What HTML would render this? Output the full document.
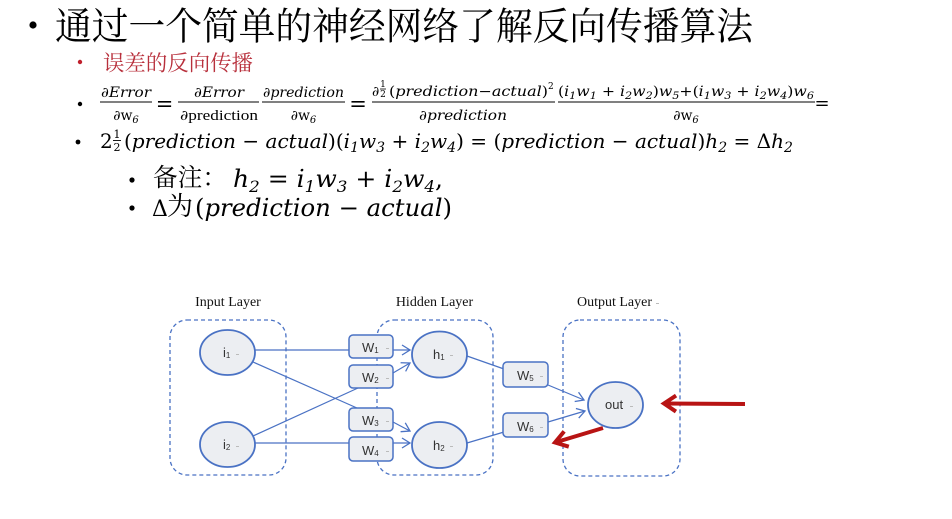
<!DOCTYPE html>
<html><head><meta charset="utf-8"><style>html,body{margin:0;padding:0;background:#fff}svg{display:block}</style></head>
<body>
<svg width="952" height="519" viewBox="0 0 952 519" xmlns="http://www.w3.org/2000/svg">
<defs>
<marker id="ab" markerUnits="userSpaceOnUse" markerWidth="20" markerHeight="20" refX="10" refY="10" orient="auto" overflow="visible">
<path d="M2,5 L10,10 L2,15" fill="none" stroke="#4a72c4" stroke-width="1.3"/>
</marker>
<marker id="ar" markerUnits="userSpaceOnUse" markerWidth="30" markerHeight="30" refX="15" refY="15" orient="auto" overflow="visible">
<path d="M3,7 L15,15 L3,23" fill="none" stroke="#b81414" stroke-width="4"/>
</marker>
</defs>
<rect width="952" height="519" fill="#fff"/>

<!-- Title -->
<circle cx="33" cy="25" r="3.6" fill="#000"/>
<text x="55" y="39.5" font-family="'Liberation Serif','Noto Serif CJK SC',serif" font-size="38" textLength="698" lengthAdjust="spacingAndGlyphs" fill="#000">通过一个简单的神经网络了解反向传播算法</text>

<!-- Subtitle -->
<circle cx="80" cy="62" r="2.2" fill="#c0202c"/>
<text x="103" y="70.5" font-family="'Liberation Serif','Noto Serif CJK SC',serif" font-size="21.5" textLength="150" lengthAdjust="spacingAndGlyphs" fill="#b8303c">误差的反向传播</text>

<!-- Line 1 -->
<circle cx="80" cy="104" r="2.2" fill="#000"/>
<g font-family="'DejaVu Serif',serif" font-size="14" font-style="italic" fill="#000">
 <!-- F1 -->
 <text x="101" y="97" textLength="50" lengthAdjust="spacingAndGlyphs">∂Error</text>
 <line x1="100" y1="102" x2="152" y2="102" stroke="#000" stroke-width="1"/>
 <text x="126" y="120" text-anchor="middle">∂<tspan font-style="normal">w</tspan><tspan font-size="10" dy="3">6</tspan></text>
 <text x="164.5" y="111" text-anchor="middle" font-style="normal" font-size="21">=</text>
 <!-- F2 -->
 <text x="194" y="97" textLength="50" lengthAdjust="spacingAndGlyphs">∂Error</text>
 <line x1="178" y1="102" x2="259" y2="102" stroke="#000" stroke-width="1"/>
 <text x="180" y="120" textLength="78" lengthAdjust="spacingAndGlyphs">∂<tspan font-style="normal" font-family="'Liberation Serif',serif" font-size="15">prediction</tspan></text>
 <!-- F3 -->
 <text x="263" y="97" textLength="81" lengthAdjust="spacingAndGlyphs">∂prediction</text>
 <line x1="262" y1="102" x2="345" y2="102" stroke="#000" stroke-width="1"/>
 <text x="303.5" y="120" text-anchor="middle">∂<tspan font-style="normal">w</tspan><tspan font-size="10" dy="3">6</tspan></text>
 <text x="358" y="111" text-anchor="middle" font-style="normal" font-size="21">=</text>
 <!-- F4 -->
 <text x="372" y="96">∂</text>
 <text x="383" y="87" font-size="9" font-style="normal" text-anchor="middle">1</text>
 <line x1="380" y1="89" x2="386" y2="89" stroke="#000" stroke-width="0.8"/>
 <text x="383" y="97" font-size="9" font-style="normal" text-anchor="middle">2</text>
 <text x="389" y="96" textLength="159" lengthAdjust="spacingAndGlyphs"><tspan font-style="normal">(</tspan>prediction<tspan font-style="normal">−</tspan>actual<tspan font-style="normal">)</tspan></text>
 <text x="548" y="89" font-size="9" font-style="normal">2</text>
 <line x1="372" y1="102" x2="555" y2="102" stroke="#000" stroke-width="1"/>
 <text x="419" y="120" textLength="88" lengthAdjust="spacingAndGlyphs">∂prediction</text>
 <!-- F5 -->
 <text x="558" y="96" textLength="256" lengthAdjust="spacingAndGlyphs"><tspan font-style="normal">(</tspan>i<tspan font-size="10" dy="3">1</tspan><tspan dy="-3">w</tspan><tspan font-size="10" dy="3">1</tspan><tspan dy="-3" font-style="normal"> + </tspan>i<tspan font-size="10" dy="3">2</tspan><tspan dy="-3">w</tspan><tspan font-size="10" dy="3">2</tspan><tspan dy="-3" font-style="normal">)</tspan>w<tspan font-size="10" dy="3">5</tspan><tspan dy="-3" font-style="normal">+(</tspan>i<tspan font-size="10" dy="3">1</tspan><tspan dy="-3">w</tspan><tspan font-size="10" dy="3">3</tspan><tspan dy="-3" font-style="normal"> + </tspan>i<tspan font-size="10" dy="3">2</tspan><tspan dy="-3">w</tspan><tspan font-size="10" dy="3">4</tspan><tspan dy="-3" font-style="normal">)</tspan>w<tspan font-size="10" dy="3">6</tspan></text>
 <line x1="558" y1="102" x2="815" y2="102" stroke="#000" stroke-width="1"/>
 <text x="686" y="120" text-anchor="middle">∂<tspan font-style="normal">w</tspan><tspan font-size="10" dy="3">6</tspan></text>
 <text x="822" y="109" text-anchor="middle" font-style="normal" font-size="18">=</text>
</g>

<!-- Line 2 -->
<circle cx="78" cy="142" r="2.4" fill="#000"/>
<g font-family="'DejaVu Serif',serif" font-size="20" font-style="italic" fill="#000">
 <text x="100" y="148" font-style="normal">2</text>
 <text x="117" y="138" font-size="11" font-style="normal" text-anchor="middle">1</text>
 <line x1="113" y1="140.5" x2="121" y2="140.5" stroke="#000" stroke-width="0.9"/>
 <text x="117" y="151" font-size="11" font-style="normal" text-anchor="middle">2</text>
 <text x="124" y="148" textLength="669" lengthAdjust="spacingAndGlyphs"><tspan font-style="normal">(</tspan>prediction<tspan font-style="normal"> − </tspan>actual<tspan font-style="normal">)(</tspan>i<tspan font-size="14" dy="4">1</tspan><tspan dy="-4">w</tspan><tspan font-size="14" dy="4">3</tspan><tspan dy="-4" font-style="normal"> + </tspan>i<tspan font-size="14" dy="4">2</tspan><tspan dy="-4">w</tspan><tspan font-size="14" dy="4">4</tspan><tspan dy="-4" font-style="normal">) = (</tspan>prediction<tspan font-style="normal"> − </tspan>actual<tspan font-style="normal">)</tspan>h<tspan font-size="14" dy="4">2</tspan><tspan dy="-4" font-style="normal"> = Δ</tspan>h<tspan font-size="14" dy="4">2</tspan></text>
</g>

<!-- Line 3 -->
<circle cx="132" cy="180" r="2.6" fill="#000"/>
<text x="153" y="186" font-family="'Liberation Serif','Noto Serif CJK SC',serif" font-size="25" textLength="74" lengthAdjust="spacingAndGlyphs" fill="#000">备注：</text>
<text x="233" y="187" font-family="'DejaVu Serif',serif" font-size="24" font-style="italic" textLength="210" lengthAdjust="spacingAndGlyphs" fill="#000">h<tspan font-size="16" dy="5">2</tspan><tspan dy="-5" font-style="normal"> = </tspan>i<tspan font-size="16" dy="5">1</tspan><tspan dy="-5">w</tspan><tspan font-size="16" dy="5">3</tspan><tspan dy="-5" font-style="normal"> + </tspan>i<tspan font-size="16" dy="5">2</tspan><tspan dy="-5">w</tspan><tspan font-size="16" dy="5">4</tspan><tspan dy="-5" font-style="normal">,</tspan></text>

<!-- Line 4 -->
<circle cx="132" cy="208" r="2.6" fill="#000"/>
<text x="152" y="216" font-family="'DejaVu Serif',serif" font-size="22" fill="#000">Δ</text>
<text x="167" y="215" font-family="'Liberation Serif','Noto Serif CJK SC',serif" font-size="26" fill="#000">为</text>
<text x="195" y="216" font-family="'DejaVu Serif',serif" font-size="24" font-style="italic" textLength="257" lengthAdjust="spacingAndGlyphs" fill="#000"><tspan font-style="normal">(</tspan>prediction<tspan font-style="normal"> − </tspan>actual<tspan font-style="normal">)</tspan></text>

<!-- Diagram labels -->
<g font-family="'Liberation Serif',serif" font-size="14" fill="#111">
 <text x="228" y="306" text-anchor="middle">Input Layer</text>
 <text x="434.5" y="306" text-anchor="middle">Hidden Layer</text>
 <text x="614.5" y="306" text-anchor="middle">Output Layer</text>
</g>
<rect x="656" y="303" width="3" height="1" fill="#bbb"/>

<!-- Layer boxes -->
<g fill="none" stroke="#4a72c4" stroke-width="1.3" stroke-dasharray="4 3">
 <rect x="170" y="320" width="116" height="155" rx="17"/>
 <rect x="377" y="320" width="116" height="155" rx="17"/>
 <rect x="563" y="320" width="117" height="156" rx="17"/>
</g>

<!-- Connections -->
<g stroke="#4a72c4" stroke-width="1.2" fill="none">
 <line x1="255" y1="350" x2="349" y2="350"/>
 <line x1="253" y1="362" x2="357" y2="408"/>
 <line x1="253" y1="436" x2="358" y2="388"/>
 <line x1="255" y1="443" x2="349" y2="443"/>
 <line x1="393" y1="350" x2="410" y2="350" marker-end="url(#ab)"/>
 <line x1="393" y1="373" x2="410" y2="363" marker-end="url(#ab)"/>
 <line x1="393" y1="422" x2="410" y2="431" marker-end="url(#ab)"/>
 <line x1="393" y1="443" x2="410" y2="443" marker-end="url(#ab)"/>
 <line x1="467" y1="356" x2="504" y2="369"/>
 <line x1="548" y1="385" x2="584" y2="400" marker-end="url(#ab)"/>
 <line x1="467" y1="443" x2="504" y2="432"/>
 <line x1="548" y1="422" x2="585" y2="411" marker-end="url(#ab)"/>
</g>

<!-- Nodes -->
<g fill="#eceef2" stroke="#4a72c4" stroke-width="1.8">
 <ellipse cx="227.5" cy="352.5" rx="27.5" ry="22.5"/>
 <ellipse cx="227.5" cy="444.5" rx="27.5" ry="22.5"/>
 <ellipse cx="439.5" cy="354.5" rx="27.5" ry="23"/>
 <ellipse cx="439.5" cy="445" rx="27.5" ry="23"/>
 <ellipse cx="615.5" cy="405" rx="27.5" ry="23"/>
</g>
<g fill="#eceef2" stroke="#4a72c4" stroke-width="1.5">
 <rect x="349" y="335" width="44" height="23" rx="4"/>
 <rect x="349" y="365" width="44" height="23" rx="4"/>
 <rect x="349" y="408" width="44" height="23" rx="4"/>
 <rect x="349" y="437" width="44" height="24" rx="4"/>
 <rect x="503" y="362" width="45" height="25" rx="4"/>
 <rect x="503" y="413" width="45" height="24" rx="4"/>
</g>

<!-- Node labels -->
<g font-family="'Liberation Sans',sans-serif" font-size="13" fill="#333">
 <text x="223" y="357">i<tspan font-size="8" dy="1">1</tspan></text>
 <text x="223" y="449">i<tspan font-size="8" dy="1">2</tspan></text>
 <text x="433" y="359">h<tspan font-size="8" dy="1">1</tspan></text>
 <text x="433" y="450">h<tspan font-size="8" dy="1">2</tspan></text>
 <text x="605" y="409">out</text>
 <text x="362" y="352">W<tspan font-size="8" dy="1">1</tspan></text>
 <text x="362" y="382">W<tspan font-size="8" dy="1">2</tspan></text>
 <text x="362" y="425">W<tspan font-size="8" dy="1">3</tspan></text>
 <text x="362" y="455">W<tspan font-size="8" dy="1">4</tspan></text>
 <text x="517" y="380">W<tspan font-size="8" dy="1">5</tspan></text>
 <text x="517" y="431">W<tspan font-size="8" dy="1">6</tspan></text>
</g>
<g fill="#bbb">
 <rect x="236" y="354" width="3" height="1"/>
 <rect x="236" y="446" width="3" height="1"/>
 <rect x="450" y="355" width="3" height="1"/>
 <rect x="450" y="446" width="3" height="1"/>
 <rect x="630" y="406" width="3" height="1"/>
 <rect x="386" y="348" width="3" height="1"/>
 <rect x="386" y="378" width="3" height="1"/>
 <rect x="386" y="421" width="3" height="1"/>
 <rect x="386" y="451" width="3" height="1"/>
 <rect x="540" y="376" width="3" height="1"/>
 <rect x="540" y="427" width="3" height="1"/>
</g>

<!-- Red arrows -->
<line x1="745" y1="404" x2="664" y2="403.5" stroke="#b81414" stroke-width="4" marker-end="url(#ar)"/>
<line x1="603" y1="428" x2="555" y2="442.5" stroke="#b81414" stroke-width="4" marker-end="url(#ar)"/>
</svg>
</body></html>
